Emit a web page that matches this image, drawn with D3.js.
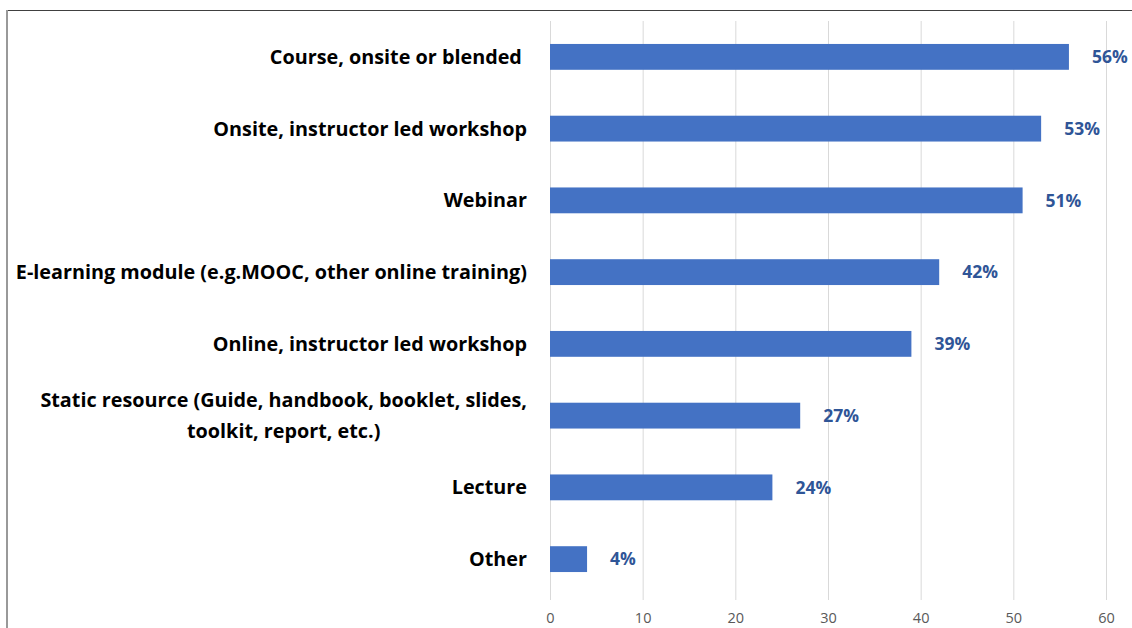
<!DOCTYPE html>
<html>
<head>
<meta charset="utf-8">
<script src="https://d3js.org/d3.v7.min.js"></script>
<style>
  html, body { margin: 0; padding: 0; background: #fff; }
  svg { display: block; }
  .cat { white-space: pre; }
</style>
</head>
<body>
<svg id="chart" width="1132" height="628"></svg>
<script>
// Training formats and the share of respondents choosing each
const categories = [
  "Course, onsite or blended ",
  "Onsite, instructor led workshop",
  "Webinar",
  "E-learning module (e.g.MOOC, other online training)",
  "Online, instructor led workshop",
  "Static resource (Guide, handbook, booklet, slides,|toolkit, report, etc.)",
  "Lecture",
  "Other"
];
const values = [56, 53, 51, 42, 39, 27, 24, 4];
const xTicks = [0, 10, 20, 30, 40, 50, 60];

const svg = d3.select("#chart");
const W = 1132, H = 628;
const labelFont = "'Open Sans', Lato, sans-serif";

// frame
svg.append("line").attr("x1", 7).attr("x2", W).attr("y1", 10.5).attr("y2", 10.5)
  .attr("stroke", "#404040").attr("stroke-width", 1.2);
svg.append("line").attr("x1", 7).attr("x2", 7).attr("y1", 10).attr("y2", H)
  .attr("stroke", "#999").attr("stroke-width", 2);

const x = d3.scaleLinear().domain([0, 60]).range([550, 1106]);
const y = d3.scaleBand().domain(categories).range([21, 595]).paddingInner(0.64).paddingOuter(0.32);

// gridlines
svg.append("g").selectAll("line").data(xTicks).join("line")
  .attr("x1", d => x(d) + 0.5).attr("x2", d => x(d) + 0.5)
  .attr("y1", 21).attr("y2", 600)
  .attr("stroke", "#d9d9d9").attr("stroke-width", 1);

// x axis labels
const xAxis = d3.axisBottom(x).tickValues(xTicks).tickSize(0).tickPadding(0);
const gx = svg.append("g").attr("transform", "translate(0,618)").call(xAxis);
gx.select(".domain").remove();
gx.selectAll("text")
  .attr("font-family", labelFont)
  .attr("font-size", 14.5).attr("fill", "#595959").attr("dy", "0.35em");

// bars
svg.append("g").selectAll("rect").data(values).join("rect")
  .attr("x", x(0))
  .attr("y", (d, i) => y(categories[i]))
  .attr("width", d => x(d) - x(0))
  .attr("height", y.bandwidth())
  .attr("fill", "#4472C4");

// value labels
svg.append("g").selectAll("text").data(values).join("text")
  .attr("x", d => x(d) + 23)
  .attr("y", (d, i) => y(categories[i]) + y.bandwidth() / 2)
  .attr("dy", "0.35em")
  .attr("font-family", labelFont).attr("font-weight", "bold")
  .attr("font-size", 17.5).attr("fill", "#2F5597")
  .text(d => d + "%");

// category labels (right aligned block, multi-line centered)
const labelG = svg.append("g");
const catSize = 19.8;
categories.forEach((c, i) => {
  const lines = c.split("|");
  const cy = y(c) + y.bandwidth() / 2;
  const lh = 31;
  const t = labelG.append("text").attr("class", "cat")
    .attr("font-family", labelFont).attr("font-weight", "bold")
    .attr("font-size", catSize).attr("fill", "#000");
  if (lines.length === 1) {
    t.attr("x", 527).attr("y", cy).attr("dy", "0.35em").attr("text-anchor", "end").text(c);
  } else {
    // measure widest line, center all lines within it
    const tmp = labelG.append("text").attr("font-family", labelFont)
      .attr("font-weight", "bold").attr("font-size", catSize).text(lines[0]);
    const w = tmp.node().getComputedTextLength();
    tmp.remove();
    const cx = 527 - w / 2;
    t.attr("text-anchor", "middle");
    lines.forEach((ln, k) => {
      t.append("tspan").attr("x", cx)
        .attr("y", cy + (k - (lines.length - 1) / 2) * lh)
        .attr("dy", "0.35em").text(ln);
    });
  }
});
</script>
</body>
</html>
